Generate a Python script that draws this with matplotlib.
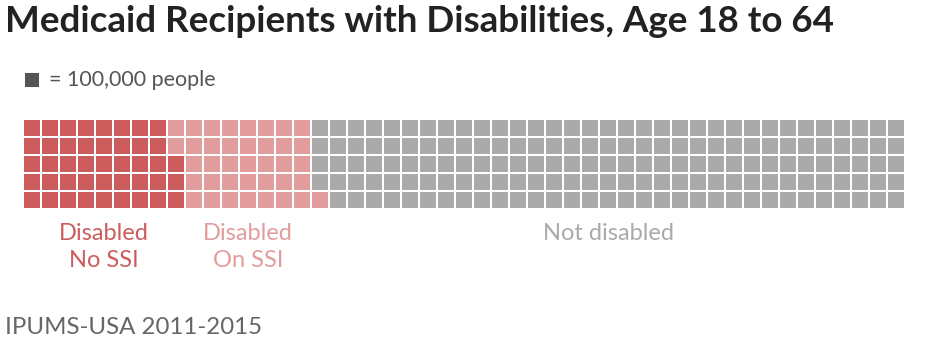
import matplotlib.pyplot as plt
from matplotlib.patches import Rectangle

plt.rcParams['font.family'] = ['Lato', 'DejaVu Sans']

# waffle data: one square = 100,000 people
groups = ['Disabled\nNo SSI', 'Disabled\nOn SSI', 'Not disabled']
counts = [43, 38, 164]
colors = ['#cd5c5c', '#e29c9e', '#aaaaaa']
n_rows = 5

title = 'Medicaid Recipients with Disabilities, Age 18 to 64'
unit_label = '= 100,000 people'
source = 'IPUMS-USA 2011-2015'

fig = plt.figure(figsize=(9.3, 3.51), dpi=100)
ax = fig.add_axes([0, 0, 1, 1])
ax.set_xlim(0, 930)
ax.set_ylim(351, 0)
ax.axis('off')

x0, y0 = 24, 120
pitch, size = 18, 16

# fill column by column, bottom row first
idx = 0
for g, (n, c) in enumerate(zip(counts, colors)):
    cols = []
    for k in range(n):
        col = idx // n_rows
        row = n_rows - 1 - idx % n_rows
        ax.add_patch(Rectangle((x0 + col * pitch, y0 + row * pitch), size, size,
                               facecolor=c, edgecolor='none'))
        cols.append(col)
        idx += 1
    cx = x0 + (min(cols) * pitch + (max(cols) + 1) * pitch - 2) / 2
    ax.text(cx, 223, groups[g], color=c, fontsize=17, ha='center', va='top',
            linespacing=1.38)

ax.text(5, 21, title, fontsize=26.5, fontweight='bold', color='#222222',
        ha='left', va='center')
ax.add_patch(Rectangle((25, 73), 14, 14, facecolor='#555555', edgecolor='none'))
ax.text(49, 80, unit_label, fontsize=15.5, color='#555555', ha='left', va='center')
ax.text(5, 327, source, fontsize=17.3, color='#666666', ha='left', va='center')

fig.savefig('out.png', dpi=100)
